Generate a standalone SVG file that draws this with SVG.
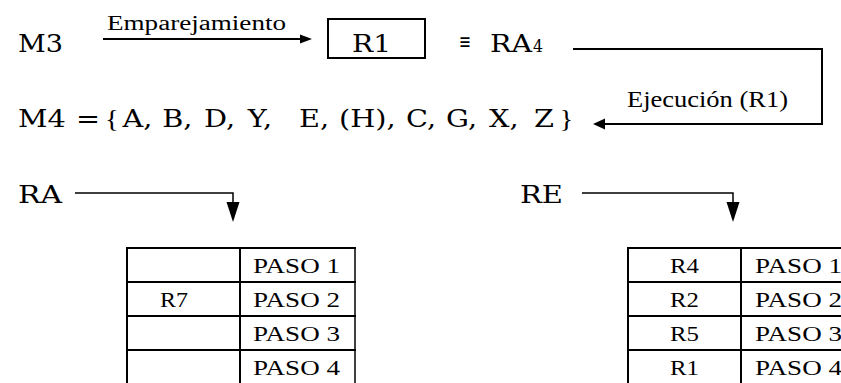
<svg xmlns="http://www.w3.org/2000/svg" width="841" height="383" viewBox="0 0 841 383">
  <rect width="841" height="383" fill="#fff"/>

  <!-- labels of the upper rule line -->
  <g id="m3">
    <text x="18" y="52" font-family="'DejaVu Serif', serif" font-size="25" textLength="45" lengthAdjust="spacingAndGlyphs">M3</text>
  </g>
  <g id="r1">
    <rect x="328" y="19" width="97" height="39" fill="none" stroke="#000" stroke-width="2"/>
    <text x="352" y="52" font-family="'DejaVu Serif', serif" font-size="25" textLength="39" lengthAdjust="spacingAndGlyphs">R1</text>
  </g>
  <g id="ra4">
    <text x="459" y="49" font-family="'DejaVu Serif', serif" font-size="22" textLength="12" lengthAdjust="spacingAndGlyphs">&#8801;</text>
    <text x="490" y="52" font-family="'DejaVu Serif', serif" font-size="25" textLength="42" lengthAdjust="spacingAndGlyphs">RA</text>
    <text x="533" y="52" font-family="'DejaVu Serif', serif" font-size="16" textLength="10" lengthAdjust="spacingAndGlyphs">4</text>
  </g>

  <!-- working memory after firing, widened like the other labels -->
  <g id="m4" transform="scale(1.15,1)">
    <text y="127" font-family="'DejaVu Serif', serif" font-size="25"><tspan x="15.65">M4 </tspan><tspan x="66.1">=</tspan><tspan x="91.3" font-family="'Liberation Serif', serif">{</tspan><tspan x="106.5">A,</tspan><tspan x="141">B,</tspan><tspan x="177.4">D,</tspan><tspan x="215.5">Y,</tspan><tspan x="260">E,</tspan><tspan x="294.8">(H),</tspan><tspan x="353">C,</tspan><tspan x="387.8">G,</tspan><tspan x="425.2">X,</tspan><tspan x="464.4">Z</tspan><tspan x="486.5" font-family="'Liberation Serif', serif">}</tspan></text>
  </g>

  <g id="ra">
    <text x="18" y="203" font-family="'DejaVu Serif', serif" font-size="25" textLength="44" lengthAdjust="spacingAndGlyphs">RA</text>
  </g>
  <g id="re">
    <text x="520" y="203" font-family="'DejaVu Serif', serif" font-size="25" textLength="43" lengthAdjust="spacingAndGlyphs">RE</text>
  </g>

  <!-- connectors -->
  <g id="connectors">
    <text font-family="'Liberation Serif', serif" font-size="20" x="107" y="30" textLength="179" lengthAdjust="spacingAndGlyphs">Emparejamiento</text>
    <text font-family="'Liberation Serif', serif" font-size="24" x="627" y="107" textLength="161" lengthAdjust="spacingAndGlyphs">Ejecuci&#243;n (R1)</text>
    <g fill="none" stroke="#000">
      <line stroke-width="2" x1="103" y1="39" x2="301" y2="39"/>
      <polyline stroke-width="2" points="573,49 822,49 822,124 604,124"/>
      <polyline stroke-width="1.5" points="75,193 233,193 233,203"/>
      <polyline stroke-width="1.5" points="582,193 733,193 733,203"/>
    </g>
    <g fill="#000">
      <polygon points="312,39 300,34.5 300,43.5"/>
      <polygon points="593,124 605,118.5 605,129.5"/>
      <polygon points="226.5,202 239.5,202 233,222"/>
      <polygon points="726.5,202 739.5,202 733,222"/>
    </g>
  </g>

  <!-- agenda table RA -->
  <g id="table-ra">
    <path fill="none" stroke="#000" stroke-width="2" d="M127,248 V383 M240,248 V383 M126,248 H356 M126,282 H356 M126,316 H356 M126,350 H356"/>
    <line x1="355" y1="248" x2="355" y2="383" stroke="#000" stroke-width="1.5"/>
    <text font-family="'Liberation Serif', serif" font-size="21" x="160" y="307" textLength="28" lengthAdjust="spacingAndGlyphs">R7</text>
    <text font-family="'Liberation Serif', serif" font-size="21" x="253" y="273" textLength="87" lengthAdjust="spacingAndGlyphs">PASO 1</text>
    <text font-family="'Liberation Serif', serif" font-size="21" x="253" y="307" textLength="87" lengthAdjust="spacingAndGlyphs">PASO 2</text>
    <text font-family="'Liberation Serif', serif" font-size="21" x="253" y="341" textLength="87" lengthAdjust="spacingAndGlyphs">PASO 3</text>
    <text font-family="'Liberation Serif', serif" font-size="21" x="253" y="375" textLength="87" lengthAdjust="spacingAndGlyphs">PASO 4</text>
  </g>

  <!-- executed rules table RE -->
  <g id="table-re">
    <path fill="none" stroke="#000" stroke-width="2" d="M628,248 V383 M741,248 V383 M627,248 H841 M627,282 H841 M627,316 H841 M627,350 H841"/>
    <text font-family="'Liberation Serif', serif" font-size="21" x="670" y="273" textLength="29" lengthAdjust="spacingAndGlyphs">R4</text>
    <text font-family="'Liberation Serif', serif" font-size="21" x="670" y="307" textLength="29" lengthAdjust="spacingAndGlyphs">R2</text>
    <text font-family="'Liberation Serif', serif" font-size="21" x="670" y="341" textLength="29" lengthAdjust="spacingAndGlyphs">R5</text>
    <text font-family="'Liberation Serif', serif" font-size="21" x="670" y="375" textLength="29" lengthAdjust="spacingAndGlyphs">R1</text>
    <text font-family="'Liberation Serif', serif" font-size="21" x="755" y="273" textLength="87" lengthAdjust="spacingAndGlyphs">PASO 1</text>
    <text font-family="'Liberation Serif', serif" font-size="21" x="755" y="307" textLength="87" lengthAdjust="spacingAndGlyphs">PASO 2</text>
    <text font-family="'Liberation Serif', serif" font-size="21" x="755" y="341" textLength="87" lengthAdjust="spacingAndGlyphs">PASO 3</text>
    <text font-family="'Liberation Serif', serif" font-size="21" x="755" y="375" textLength="87" lengthAdjust="spacingAndGlyphs">PASO 4</text>
  </g>
</svg>
